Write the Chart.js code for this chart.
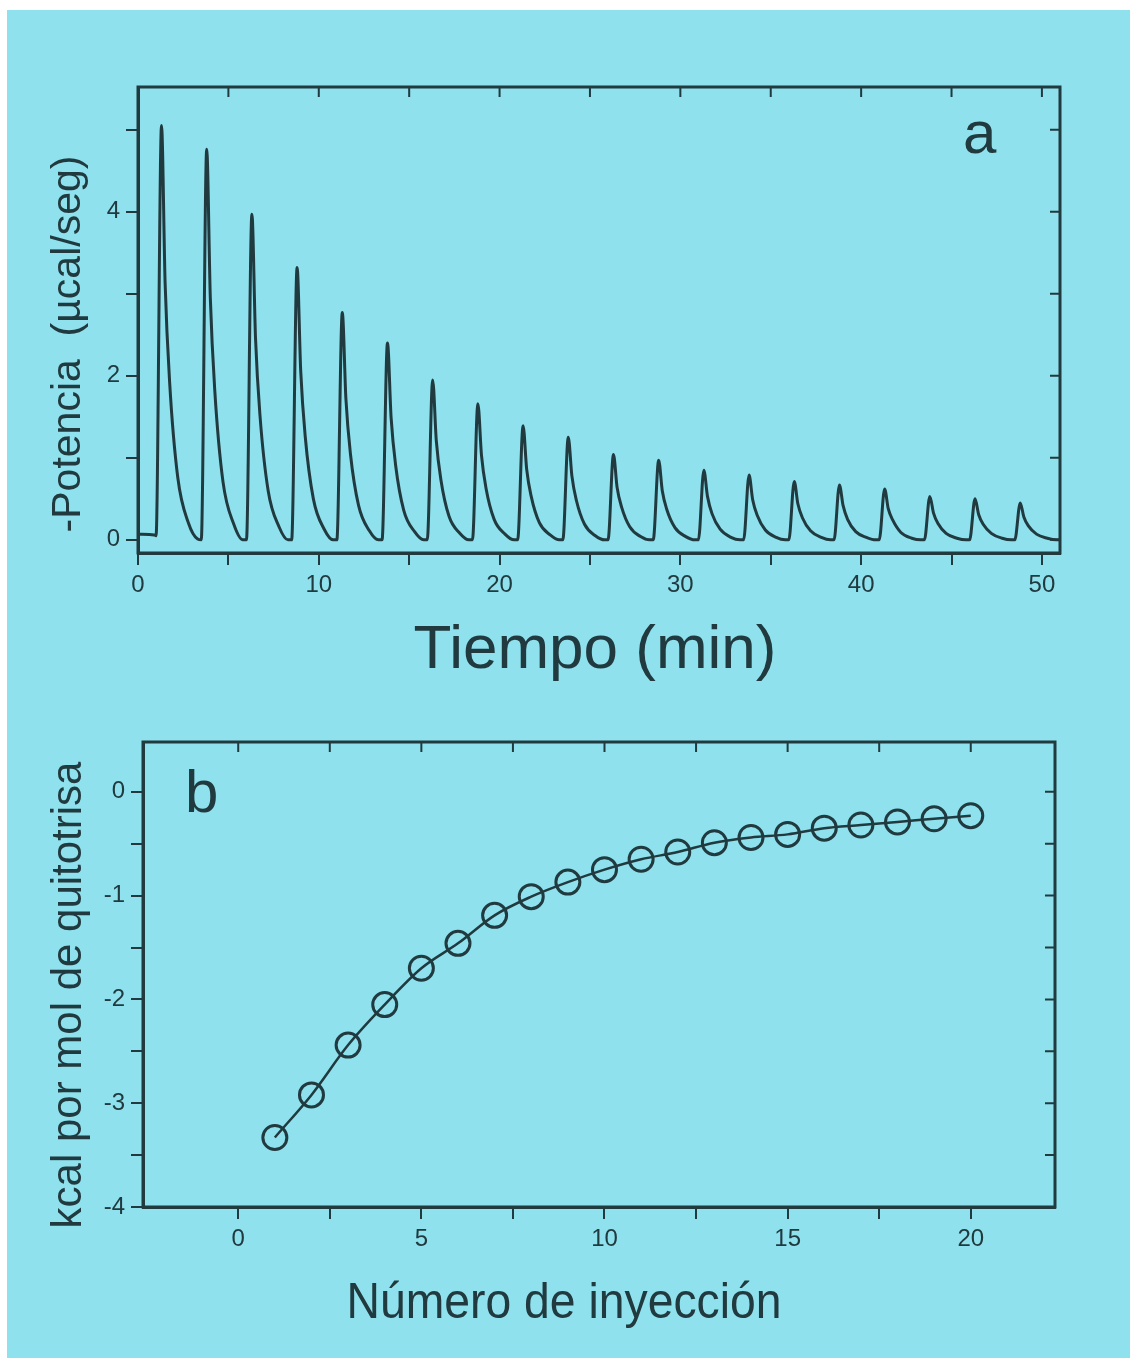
<!DOCTYPE html>
<html>
<head>
<meta charset="utf-8">
<script src="https://cdn.jsdelivr.net/npm/chart.js@4.4.1/dist/chart.umd.min.js"></script>
<style>
  html, body { margin: 0; padding: 0; background: #fff; }
  #sheet { position: absolute; left: 7px; top: 10px; width: 1123px; height: 1348px; background: #8ee1ed; }
  canvas { position: absolute; left: 0; }
  #chartA { top: 0; width: 1130px; height: 700px; }
  #chartB { top: 700px; width: 1130px; height: 658px; }
</style>
</head>
<body>
<div id="sheet"></div>
<canvas id="chartA" width="1130" height="700"></canvas>
<canvas id="chartB" width="1130" height="658"></canvas>
<script>
const INK = '#213a3f';
const FONT = '"Liberation Sans", Arial, sans-serif';

// Panel a: thermogram trace, one row per injection
const traceMin = [
  0, 0.9,
  1.0, 1.3, 1.5, 1.75, 2.2, 2.8, 3.3,
  3.5, 3.8, 4.0, 4.25, 4.7, 5.3, 5.8,
  6.0, 6.3, 6.5, 6.75, 7.2, 7.8, 8.3,
  8.5, 8.8, 9.0, 9.25, 9.7, 10.3, 10.8,
  11.0, 11.3, 11.5, 11.75, 12.2, 12.8, 13.3,
  13.5, 13.8, 14.0, 14.25, 14.7, 15.3, 15.8,
  16.0, 16.3, 16.5, 16.75, 17.2, 17.8, 18.3,
  18.5, 18.8, 19.0, 19.25, 19.7, 20.3, 20.8,
  21.0, 21.3, 21.5, 21.75, 22.2, 22.8, 23.3,
  23.5, 23.8, 24.0, 24.25, 24.7, 25.3, 25.8,
  26.0, 26.3, 26.5, 26.75, 27.2, 27.8, 28.3,
  28.5, 28.8, 29.0, 29.25, 29.7, 30.3, 30.8,
  31.0, 31.3, 31.5, 31.75, 32.2, 32.8, 33.3,
  33.5, 33.8, 34.0, 34.25, 34.7, 35.3, 35.8,
  36.0, 36.3, 36.5, 36.75, 37.2, 37.8, 38.3,
  38.5, 38.8, 39.0, 39.25, 39.7, 40.3, 40.8,
  41.0, 41.3, 41.5, 41.75, 42.2, 42.8, 43.3,
  43.5, 43.8, 44.0, 44.25, 44.7, 45.3, 45.8,
  46.0, 46.3, 46.5, 46.75, 47.2, 47.8, 48.3,
  48.5, 48.8, 49.0, 49.25, 49.7, 50.3, 50.8,
  51
];
const tracePower = [
  0.07, 0.06,
  0.05, 5.05, 3.13, 1.92, 0.76, 0.20, 0.01,
  0.00, 4.76, 2.95, 1.81, 0.71, 0.19, 0.00,
  0.00, 3.97, 2.46, 1.51, 0.60, 0.16, 0.00,
  0.00, 3.32, 2.06, 1.26, 0.50, 0.13, 0.00,
  0.00, 2.77, 1.72, 1.05, 0.42, 0.11, 0.00,
  0.00, 2.40, 1.49, 0.91, 0.36, 0.10, 0.00,
  0.00, 1.95, 1.21, 0.74, 0.29, 0.08, 0.00,
  0.00, 1.66, 1.03, 0.63, 0.25, 0.07, 0.00,
  0.00, 1.39, 0.86, 0.53, 0.21, 0.06, 0.00,
  0.00, 1.25, 0.78, 0.48, 0.19, 0.05, 0.00,
  0.00, 1.04, 0.64, 0.40, 0.16, 0.04, 0.00,
  0.00, 0.97, 0.60, 0.37, 0.15, 0.04, 0.00,
  0.00, 0.85, 0.53, 0.32, 0.13, 0.03, 0.00,
  0.00, 0.79, 0.49, 0.30, 0.12, 0.03, 0.00,
  0.00, 0.71, 0.44, 0.27, 0.11, 0.03, 0.00,
  0.00, 0.67, 0.42, 0.25, 0.10, 0.03, 0.00,
  0.00, 0.62, 0.38, 0.24, 0.09, 0.02, 0.00,
  0.00, 0.53, 0.33, 0.20, 0.08, 0.02, 0.00,
  0.00, 0.50, 0.31, 0.19, 0.08, 0.02, 0.00,
  0.00, 0.45, 0.28, 0.17, 0.07, 0.02, 0.00,
  0.00
];
const aTicksX = [0, 5, 10, 15, 20, 25, 30, 35, 40, 45, 50];
const aLabelsX = [0, 10, 20, 30, 40, 50];
const aTicksY = [0, 1, 2, 3, 4, 5];
const aLabelsY = [0, 2, 4];

// Panel b: integrated heat per injection
const injection = [1, 2, 3, 4, 5, 6, 7, 8, 9, 10, 11, 12, 13, 14, 15, 16, 17, 18, 19, 20];
const heat = [-3.33, -2.92, -2.44, -2.05, -1.70, -1.46, -1.19, -1.01, -0.87, -0.75,
              -0.65, -0.58, -0.49, -0.44, -0.41, -0.35, -0.32, -0.29, -0.26, -0.23];
const bTicksX = [0, 2.5, 5, 7.5, 10, 12.5, 15, 17.5, 20];
const bLabelsX = [0, 5, 10, 15, 20];
const bTicksY = [-4, -3.5, -3, -2.5, -2, -1.5, -1, -0.5, 0];
const bLabelsY = [-4, -3, -2, -1, 0];

// Build a linear axis with fixed ticks and a fixed thickness
function axis(min, max, ticks, labels, size, horizontal) {
    return {
        type: 'linear',
        min: min,
        max: max,
        afterBuildTicks: s => { s.ticks = ticks.map(v => ({ value: v })); },
        afterFit: s => {
            if (horizontal) s.height = size;
            else s.width = size;
        },
        ticks: {
            color: INK,
            font: { family: FONT, size: 24 },
            padding: 6,
            autoSkip: false,
            maxRotation: 0,
            callback: v => labels.includes(v) ? String(v) : ''
        },
        grid: { drawOnChartArea: false, tickLength: 12, color: INK, lineWidth: 2 },
        border: { display: true, color: INK, width: 3 }
    };
}

// Box, inward ticks on top/right, and the free text of each panel
const frame = {
    id: 'frame',
    afterDraw(chart, args, opts) {
        const { ctx, chartArea: a } = chart;
        const x = chart.scales.x, y = chart.scales.y;
        ctx.save();
        ctx.strokeStyle = INK;
        ctx.lineWidth = 2;
        ctx.beginPath();
        x.ticks.forEach(t => {
            const px = x.getPixelForValue(t.value);
            ctx.moveTo(px, a.top);
            ctx.lineTo(px, a.top + 10);
        });
        y.ticks.forEach(t => {
            const py = y.getPixelForValue(t.value);
            ctx.moveTo(a.right, py);
            ctx.lineTo(a.right - 10, py);
        });
        ctx.stroke();
        ctx.lineWidth = 3;
        ctx.strokeRect(a.left, a.top, a.right - a.left, a.bottom - a.top);

        ctx.fillStyle = INK;
        (opts.texts || []).forEach(t => {
            ctx.save();
            ctx.translate(t.x, t.y);
            ctx.rotate(t.rot || 0);
            ctx.font = t.size + 'px ' + FONT;
            ctx.textAlign = t.align || 'center';
            ctx.textBaseline = 'alphabetic';
            if (t.maxWidth) ctx.fillText(t.text, 0, 0, t.maxWidth);
            else ctx.fillText(t.text, 0, 0);
            ctx.restore();
        });
        ctx.restore();
    }
};

const common = {
    responsive: false,
    animation: false,
    devicePixelRatio: 1,
    events: [],
    plugins: { legend: { display: false }, tooltip: { enabled: false } }
};

// Panel a
new Chart(document.getElementById('chartA'), {
    type: 'line',
    data: {
        datasets: [{
            data: traceMin.map((t, i) => ({ x: t, y: tracePower[i] })),
            borderColor: INK,
            borderWidth: 3,
            pointRadius: 0,
            cubicInterpolationMode: 'monotone',
            fill: false
        }]
    },
    options: {
        ...common,
        layout: { padding: { left: 0, right: 70, top: 87, bottom: 0 } },
        scales: {
            x: axis(0, 51, aTicksX, aLabelsX, 147, true),
            y: axis(-0.16, 5.52, aTicksY, aLabelsY, 138, false)
        },
        plugins: {
            ...common.plugins,
            frame: {
                texts: [
                    { text: '-Potencia  (µcal/seg)', x: 80, y: 344, rot: -Math.PI / 2, size: 41 },
                    { text: 'Tiempo (min)', x: 595, y: 668, size: 62 },
                    { text: 'a', x: 963, y: 153, size: 60, align: 'left' }
                ]
            }
        }
    },
    plugins: [frame]
});

// Panel b
new Chart(document.getElementById('chartB'), {
    type: 'line',
    data: {
        datasets: [{
            data: injection.map((n, i) => ({ x: n, y: heat[i] })),
            borderColor: INK,
            borderWidth: 2.5,
            cubicInterpolationMode: 'monotone',
            pointStyle: 'circle',
            pointRadius: 12,
            pointBorderWidth: 3,
            pointBorderColor: INK,
            pointBackgroundColor: 'rgba(0,0,0,0)',
            fill: false
        }]
    },
    options: {
        ...common,
        layout: { padding: { left: 0, right: 75, top: 42, bottom: 0 } },
        scales: {
            x: axis(-2.6, 22.3, bTicksX, bLabelsX, 151, true),
            y: axis(-4, 0.48, bTicksY, bLabelsY, 143, false)
        },
        plugins: {
            ...common.plugins,
            frame: {
                texts: [
                    { text: 'kcal por mol de quitotrisa', x: 81, y: 295, rot: -Math.PI / 2, size: 42, maxWidth: 475 },
                    { text: 'Número de inyección', x: 564, y: 618, size: 50, maxWidth: 435 },
                    { text: 'b', x: 185, y: 112, size: 60, align: 'left' }
                ]
            }
        }
    },
    plugins: [frame]
});
</script>
</body>
</html>
